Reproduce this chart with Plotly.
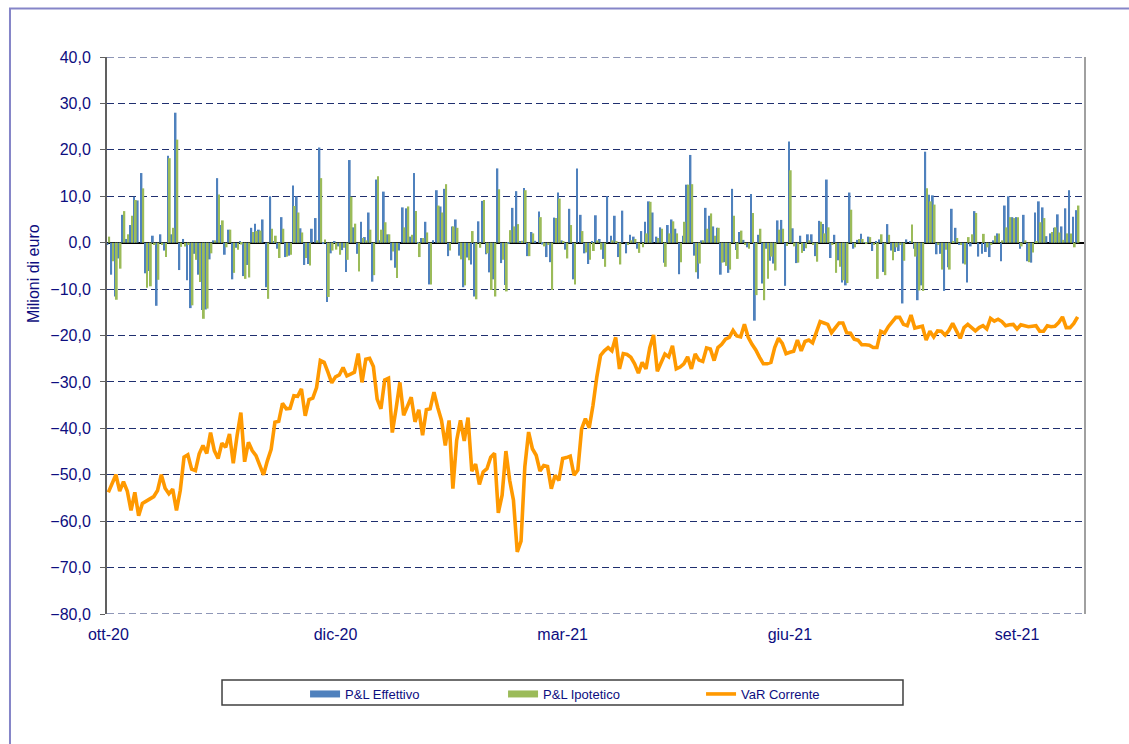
import plotly.graph_objects as go

# ---------------- data ----------------
tick_labels = ["ott-20", "dic-20", "mar-21", "giu-21", "set-21"]
tick_index = [0, 60, 120, 180, 240]

pl_effettivo = [
    -0.5, -6.9, -11.6, -3.4, 6.0, 0.8, 3.8, 9.9, 9.1, 15.0,
    -6.6, -6.1, 1.5, -13.6, 1.8, -1.7, 18.7, 1.8, 28.0, -5.9,
    0.8, -8.1, -14.1, -2.4, -6.9, -14.5, -14.4, -3.6, 0.5, 13.9,
    3.8, -2.6, 2.8, -7.9, -1.1, 0.3, -7.2, -4.8, 3.2, 4.1,
    2.8, 5.0, -9.6, 10.0, 0.3, -1.3, 5.5, -3.1, -2.8, 12.3,
    10.0, 3.1, -4.8, -4.6, 3.0, 5.3, 20.5, -0.2, -12.8, -2.3,
    0.3, -0.8, -1.6, -6.3, 17.8, 3.3, -2.4, 4.5, 1.2, 6.5,
    -8.4, 13.6, 0.5, 11.0, 1.8, -3.8, -5.4,
    -1.7, 7.6, 7.4, 1.3, 15.0, -0.3, 1.0, 4.5, -9.0, 0.5,
    11.3, 7.8, 11.6, -2.9, 3.5, 5.0, -2.8, -9.6, -3.2, -4.7,
    -11.6, 4.6, 9.0, -2.5, -6.4, -7.9, 16.0, -4.4, -9.1, -0.3,
    7.5, 11.1, 0.2, 11.8, -2.9, 2.3, 0.4, 6.7, -0.4, -3.1,
    -4.2, 5.4, 10.8, 0.5, -1.5, 7.3, -7.9, 16.0, 6.0, -2.3,
    -4.6, 0.2, 5.9, 0.8, -3.5, 10.0, 1.5, 5.8, -3.1, 6.9,
    -2.3, 1.7, 1.3, -1.3, 2.5, 4.5, 8.9, 6.5, 1.3, 3.3,
    -4.3, 3.8, 5.0, 3.0, -6.8, 1.5, 12.5, 18.9, -2.8, -7.8,
    0.5, 7.5, 5.8, 3.5, 3.2, -6.9, -4.2,
    -6.5, 11.6, -1.6, 2.3, 0.6, -1.0, 10.5, -16.8, 1.7, -8.8,
    -1.3, -3.9, -4.5, 4.8, 4.9, -9.3, 21.8, 3.1, -4.4, 1.5,
    -1.8, 1.8, 1.8, -2.9, 4.7, 4.0, 13.6, -3.3, 1.7, -3.8,
    -8.6, -9.2, 10.8, -1.3, 0.6, 1.9, 0.1, 1.3, -1.8, 0.3,
    0.7, -6.3, 4.0, -1.7, -2.0, -1.8, -13.1, 0.7, 0.3, -1.3,
    -12.4, -9.2, 19.6, 10.3, 10.2, -2.5, -2.4, -10.4, -5.3, 7.3,
    3.2, -0.5, -4.5, -8.6, -0.8, 6.8, -3.0, -2.4, -2.0, -3.1,
    0.5, 2.0, -4.0, 8.0, 10.0, 5.5, 5.5, -1.3, 6.0, -4.0,
    -4.3, 6.5, 8.9, 7.6, 1.4, 2.0, 3.2, 6.1, 3.5, 7.4,
    11.3, 5.6, 7.0,
]

pl_ipotetico = [
    1.3, -4.0, -12.3, -5.6, 6.8, 1.8, 5.8, 9.2, 0.0, 11.7,
    -9.7, -9.4, -0.5, -8.0, -0.5, -3.1, 18.2, 3.2, 22.2, -0.9,
    -0.8, -0.5, -13.5, -3.7, -8.5, -16.4, -14.2, -2.3, 0.5, 10.4,
    4.8, -1.0, 2.8, -6.5, -1.5, -0.4, -7.8, -7.5, 2.3, 2.5,
    2.6, 0.0, -12.1, 3.0, 1.5, -3.3, 3.0, -3.0, -2.6, 7.9,
    6.5, 2.2, -3.3, -4.9, 0.0, 0.5, 13.9, 0.7, -11.7, -1.7,
    -1.5, -2.6, -1.1, -3.7, 9.9, 4.1, -6.2, 1.0, 0.5, 2.8,
    -7.0, 14.3, 2.8, 4.4, 1.8, -1.9, -7.6,
    0.0, 3.3, 7.8, 1.7, 6.8, -3.1, 1.0, 2.2, -9.0, 0.0,
    8.0, 6.5, 12.6, -1.7, 3.5, 3.2, -3.6, -9.2, -3.8, 2.5,
    -12.2, -1.1, 9.2, -2.3, -10.2, -11.6, 11.5, -3.7, -10.5, 2.7,
    3.5, 4.0, 0.4, 11.3, -2.9, 2.0, 0.0, 5.5, -0.8, -0.5,
    -10.2, 5.3, 9.5, 0.2, -3.4, 3.8, -9.0, 0.0, 2.5, -2.1,
    -3.7, -1.8, 0.5, -1.5, -5.2, 0.0, 0.5, 0.3, -4.7, 0.0,
    -0.5, 0.5, 0.8, -2.2, -1.0, 2.0, 8.8, 0.0, 1.0, 3.0,
    -5.2, 2.0, 4.6, 2.0, -4.2, 4.5, 12.5, 12.6, -6.4, -4.5,
    0.5, 3.0, 6.3, 1.5, 3.2, -4.3, -5.0,
    -5.8, 5.8, -3.5, 2.6, -0.5, -1.3, 6.4, -11.3, 3.0, -12.4,
    -7.8, -3.0, -6.0, 2.8, 3.0, -0.7, 15.6, -0.8, -4.3, -2.2,
    -1.2, 0.5, -0.5, -4.1, 4.5, 2.0, 3.3, -0.5, -6.5, -5.2,
    -8.1, -8.7, 7.1, -1.0, 0.8, 0.8, -0.3, 1.2, -0.5, -7.8,
    1.8, -7.0, 1.7, -3.8, -1.0, -0.5, -3.9, 0.0, 3.9, -3.0,
    -10.3, -10.4, 11.7, 8.9, 8.2, -0.5, -5.8, -1.5, -5.8, 0.3,
    1.0, -0.5, -4.7, 1.2, 1.8, 6.4, 0.0, 1.9, -1.0, -0.5,
    1.5, 2.0, 0.5, 3.3, 5.5, 5.3, 5.5, -0.8, 0.5, -4.2,
    -2.1, 0.2, 4.4, 5.3, 0.0, 2.3, 3.3, 2.2, 0.6, 2.0,
    2.0, -1.0, 8.0,
]

var_corrente = [
    -53.8, -52.0, -50.0, -53.5, -51.5, -53.5, -57.7, -53.8, -58.8, -56.2,
    -55.6, -55.2, -54.7, -53.4, -50.0, -52.9, -54.1, -53.1, -57.7, -53.4,
    -46.2, -45.7, -48.8, -49.1, -45.5, -43.7, -45.4, -40.9, -44.8, -46.5,
    -43.2, -44.1, -41.2, -47.5, -41.6, -36.6, -47.2, -43.0, -44.8, -45.9,
    -48.0, -50.0, -47.0, -44.5, -38.7, -38.5, -34.6, -35.8, -35.7, -33.0,
    -33.1, -31.5, -37.3, -33.8, -33.5, -31.2, -25.4, -25.8, -27.9, -30.2,
    -28.9, -28.5, -26.9, -28.7, -28.3, -27.9, -23.9, -30.1, -25.1, -24.9,
    -26.7, -33.7, -35.8, -29.6, -29.2, -40.9, -35.8, -30.1,
    -37.2, -35.1, -33.3, -38.6, -36.0, -41.5, -36.0, -35.8, -32.2, -35.5,
    -38.3, -43.7, -38.3, -53.0, -42.6, -38.3, -42.7, -37.7, -49.2, -47.7,
    -52.1, -49.4, -48.7, -46.2, -45.4, -58.2, -54.4, -44.9, -51.2, -55.5,
    -66.6, -64.3, -48.3, -40.8, -44.4, -45.8, -49.2, -48.0, -48.2, -53.0,
    -50.1, -51.2, -46.5, -46.3, -46.0, -50.1, -49.0, -40.1, -37.9, -39.9,
    -35.1, -29.0, -24.3,
    -23.3, -22.6, -23.3, -20.4, -27.2, -23.9, -24.1, -24.7, -26.1, -28.1,
    -25.8, -27.2, -22.6, -19.9, -27.7, -25.8, -24.0, -24.6, -22.2, -27.2,
    -26.8, -26.1, -24.6, -27.2, -24.0, -25.3, -25.6, -22.7, -22.9, -25.4,
    -22.6, -21.9, -20.8, -20.4, -18.9, -20.1, -20.3, -17.6, -20.4, -21.9,
    -23.1, -24.7, -26.1, -26.1, -25.8, -22.6, -20.6, -21.7, -23.9, -23.6,
    -23.4, -21.0, -23.3, -21.3, -21.0, -21.6, -19.2, -17.0, -17.3, -17.6,
    -19.4, -18.4, -17.3, -17.3, -19.4, -19.5, -20.8, -21.0, -22.0, -22.0,
    -22.1, -22.6, -22.6, -19.1, -19.5, -18.1, -17.0, -16.1, -16.1, -17.6,
    -17.9, -15.6, -18.4, -18.1, -18.0, -21.0, -19.1, -20.3, -19.0, -19.1,
    -19.9, -18.9, -17.4, -19.0, -20.6, -18.3, -17.6, -18.3, -19.0, -18.3,
    -17.9, -18.6, -16.3, -16.9, -16.5, -17.0, -17.9, -17.7, -17.6, -18.6,
    -17.7, -17.9, -18.1, -18.0, -17.9, -19.1, -19.1, -17.9, -18.1, -18.0,
    -17.2, -16.0, -18.3, -18.3, -17.4, -16.0,
]

y_range = [-80, 40]

# ---------------- styles ----------------
NAVY = "#0D0D80"
BLUE = "#4F81BD"
GREEN = "#9BBB59"
ORANGE = "#FF9900"
GRID = "#1F2F6F"
FONT = "Liberation Sans, Arial, sans-serif"

days = list(range(len(pl_effettivo)))

fig = go.Figure()
fig.add_trace(go.Bar(x=days, y=pl_effettivo, marker=dict(color=BLUE, line=dict(width=0)),
                     name="P&L Effettivo", showlegend=False))
fig.add_trace(go.Bar(x=days, y=pl_ipotetico, marker=dict(color=GREEN, line=dict(width=0)),
                     name="P&L Ipotetico", showlegend=False))
# legend-only entries drawn as wide flat rectangles like the original legend
fig.add_trace(go.Scatter(x=[None], y=[None], mode="lines", name="P&L Effettivo",
                         line=dict(color=BLUE, width=7)))
fig.add_trace(go.Scatter(x=[None], y=[None], mode="lines", name="P&L Ipotetico",
                         line=dict(color=GREEN, width=7)))
fig.add_trace(go.Scatter(x=list(range(len(var_corrente))), y=var_corrente, mode="lines",
                         name="VaR Corrente", line=dict(color=ORANGE, width=3.6)))

edge_grid = [dict(type="line", xref="paper", yref="y", x0=0, x1=1, y0=v, y1=v, layer="below",
                  line=dict(color=GRID, width=1, dash="7px,4px")) for v in y_range]

fig.update_layout(
    width=1129, height=744,
    margin=dict(l=107, r=44, t=57, b=130),
    paper_bgcolor="white", plot_bgcolor="white",
    separators=",.",
    barmode="group", bargap=0.05, bargroupgap=0,
    font=dict(family=FONT, color=NAVY),
    showlegend=True,
    legend=dict(orientation="h", x=0.2025, xanchor="left", y=-0.1167, yanchor="top",
                font=dict(size=13, color=NAVY), entrywidth=153, itemwidth=30,
                bgcolor="rgba(0,0,0,0)", borderwidth=0, traceorder="normal"),
    xaxis=dict(range=[-0.35, 257.95], tickmode="array", tickvals=tick_index,
               ticktext=tick_labels, showgrid=False, zeroline=False, showline=False,
               ticks="", ticklabelstandoff=9,
               tickfont=dict(size=16, color=NAVY, family=FONT)),
    yaxis=dict(range=y_range, dtick=10, tick0=0, tickformat=".1f",
               showgrid=True, gridcolor=GRID, gridwidth=1, griddash="7px,4px",
               zeroline=True, zerolinecolor="black", zerolinewidth=2,
               showline=True, linecolor="#606060", linewidth=2,
               ticks="outside", ticklen=5, tickcolor="#606060", tickwidth=1,
               ticklabelstandoff=6,
               tickfont=dict(size=16, color=NAVY, family=FONT)),
    shapes=edge_grid + [
        # outer chart border
        dict(type="rect", xref="paper", yref="paper", x0=-0.0992, x1=1.06, y0=-0.27, y1=1.0871,
             line=dict(color="#8585C8", width=2), fillcolor="rgba(0,0,0,0)", layer="below"),
        # right edge of plot area
        dict(type="line", xref="paper", yref="paper", x0=1, x1=1, y0=0, y1=1,
             line=dict(color="#A0A0A0", width=2)),
        # legend frame
        dict(type="rect", xref="paper", yref="paper", x0=0.1176, x1=0.8139, y0=-0.1634, y1=-0.1185,
             line=dict(color="#404040", width=1.5), fillcolor="rgba(0,0,0,0)"),
    ],
    annotations=[
        dict(text="Milioni di euro", xref="paper", yref="paper", x=-0.0757, y=0.612,
             textangle=-90, showarrow=False, xanchor="center", yanchor="middle",
             font=dict(size=16, color=NAVY, family=FONT)),
    ],
)

fig.write_html("out.html", config={"displayModeBar": False},
               post_script="document.body.style.margin='0';document.body.style.padding='0';")
